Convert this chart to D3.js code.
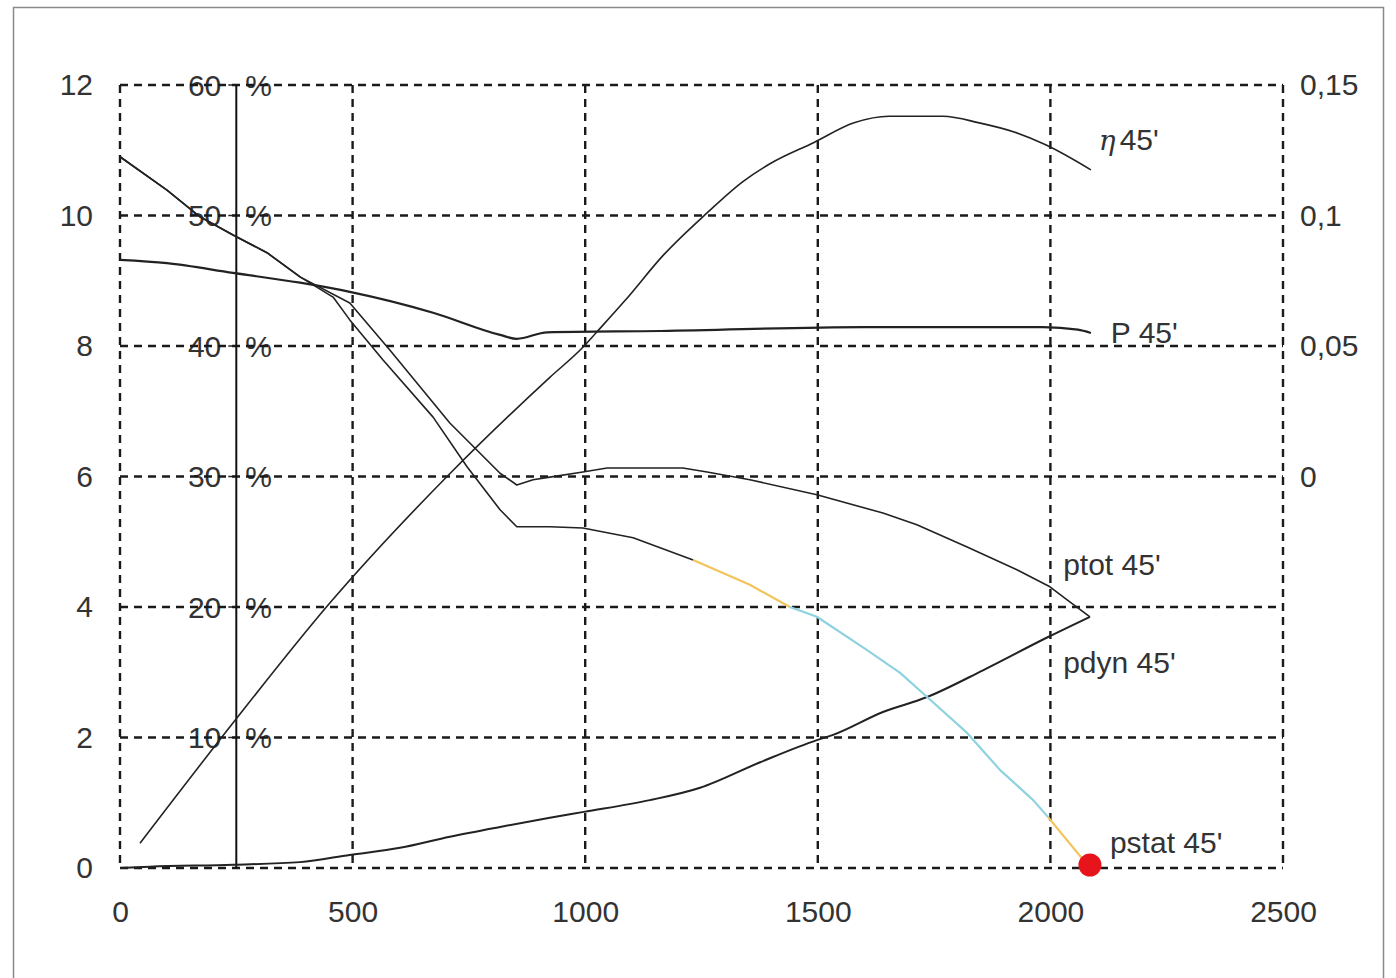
<!DOCTYPE html>
<html>
<head>
<meta charset="utf-8">
<script src="https://cdn.jsdelivr.net/npm/d3@7"></script>
<style>
  html, body { margin: 0; padding: 0; background: #fff; }
  svg { display: block; }
</style>
</head>
<body>
<svg id="chart" width="1396" height="978"></svg>
<script>
// ---------------- data ----------------
const xTicks = [0, 500, 1000, 1500, 2000, 2500];
const leftTicks = [0, 2, 4, 6, 8, 10, 12];
const pctTicks = [10, 20, 30, 40, 50, 60];
const rightTicks = [0, 0.05, 0.1, 0.15];

// efficiency eta (%) vs flow
const etaX = [43, 247, 451, 703, 924, 995, 1023, 1086, 1169, 1262, 1339, 1399, 1492, 1578, 1653, 1769, 1847, 1922, 1991, 2087];
const etaY = [1.9, 11.3, 20.3, 30.0, 37.6, 39.9, 41.0, 43.5, 47.0, 50.2, 52.6, 54.0, 55.6, 57.1, 57.6, 57.6, 57.1, 56.4, 55.4, 53.5];

// power P
const pX = [0, 101, 243, 387, 494, 673, 817, 853, 918, 1163, 1599, 1984, 2059, 2087];
const pY = [9.32, 9.27, 9.12, 8.97, 8.83, 8.51, 8.17, 8.11, 8.21, 8.23, 8.29, 8.29, 8.25, 8.20];

// total pressure
const ptotX = [0, 101, 172, 243, 316, 387, 494, 580, 709, 817, 853, 888, 924, 995, 1047, 1210, 1262, 1354, 1498, 1640, 1713, 1821, 1928, 1999, 2036, 2085];
const ptotY = [10.90, 10.39, 9.98, 9.70, 9.43, 9.06, 8.66, 7.94, 6.82, 6.05, 5.87, 5.95, 5.99, 6.07, 6.13, 6.13, 6.07, 5.95, 5.72, 5.44, 5.26, 4.92, 4.57, 4.31, 4.11, 3.85];

// static pressure
const pstatX = [0, 101, 172, 243, 316, 387, 458, 494, 565, 673, 746, 817, 853, 924, 995, 1103, 1232, 1354, 1440, 1498, 1606, 1677, 1735, 1821, 1892, 1963, 1995, 2085];
const pstatY = [10.90, 10.39, 9.98, 9.70, 9.43, 9.06, 8.75, 8.40, 7.79, 6.91, 6.15, 5.49, 5.23, 5.23, 5.21, 5.06, 4.72, 4.34, 4.00, 3.85, 3.34, 2.99, 2.62, 2.07, 1.50, 1.04, 0.78, 0.0];
// flow values where the pstat line colour changes
const pstatBreaks = [1232, 1440, 1995];

// dynamic pressure
const pdynX = [0, 64, 243, 387, 494, 602, 709, 817, 924, 997, 1139, 1247, 1376, 1498, 1533, 1640, 1735, 1855, 1995, 2085];
const pdynY = [0, 0.02, 0.05, 0.09, 0.20, 0.31, 0.48, 0.63, 0.77, 0.86, 1.04, 1.23, 1.62, 1.96, 2.04, 2.39, 2.62, 3.03, 3.54, 3.85];

// operating point
const opX = [2085];
const opY = [0.0];

// curve labels
const curveLabels = ["\u03B7", "P 45'", "ptot 45'", "pdyn 45'", "pstat 45'"];

// ---------------- drawing ----------------
const svg = d3.select("#chart");
const mLeft = 120, mRight = 1283, mTop = 85, mBottom = 868;

const x = d3.scaleLinear().domain([0, 2500]).range([mLeft, mRight]);
const yL = d3.scaleLinear().domain([0, 12]).range([mBottom, mTop]);
const yPct = d3.scaleLinear().domain([0, 60]).range([mBottom, mTop]);
const yR = d3.scaleLinear().domain([0, 0.15]).range([yL(6), mTop]);

const fontFam = "'Liberation Sans', Arial, sans-serif";
const textCol = "#333";
const fs = 30;
const commaFmt = d3.formatLocale({decimal: ",", thousands: ".", grouping: [3], currency: ["", ""]}).format("~g");

// outer frame
svg.append("rect").attr("x", 13.5).attr("y", 7.5).attr("width", 1370).attr("height", 990)
  .attr("fill", "none").attr("stroke", "#8a8a8a").attr("stroke-width", 1.5);

// left axis labels
const gL = svg.append("g").attr("transform", `translate(${mLeft - 27},0)`)
  .call(d3.axisLeft(yL).tickValues(leftTicks).tickSize(0).tickPadding(0).tickFormat(d3.format("d")));
gL.select(".domain").remove();
gL.selectAll("text").attr("font-family", fontFam).attr("font-size", fs).attr("fill", textCol);

// bottom axis labels
const gB = svg.append("g").attr("transform", `translate(0,${mBottom + 33})`)
  .call(d3.axisBottom(x).tickValues(xTicks).tickSize(0).tickPadding(0).tickFormat(d3.format("d")));
gB.select(".domain").remove();
gB.selectAll("text").attr("font-family", fontFam).attr("font-size", fs).attr("fill", textCol);

// right axis labels
const gR = svg.append("g").attr("transform", `translate(${mRight + 17},0)`)
  .call(d3.axisRight(yR).tickValues(rightTicks).tickSize(0).tickPadding(0).tickFormat(commaFmt));
gR.select(".domain").remove();
gR.selectAll("text").attr("font-family", fontFam).attr("font-size", fs).attr("fill", textCol);

// percent axis (vertical line at flow 250)
const pctX = x(250);
const gP = svg.append("g");
gP.selectAll("text.num").data(pctTicks).join("text").attr("class", "num")
  .attr("x", pctX - 15).attr("y", d => yPct(d)).attr("dy", "0.35em")
  .attr("text-anchor", "end").attr("font-family", fontFam).attr("font-size", fs).attr("fill", textCol)
  .text(d => d3.format("d")(d));
gP.selectAll("text.pct").data(pctTicks).join("text").attr("class", "pct")
  .attr("x", pctX + 9).attr("y", d => yPct(d)).attr("dy", "0.35em")
  .attr("font-family", fontFam).attr("font-size", fs).attr("fill", textCol)
  .text("%");
gP.selectAll("line.tk").data(pctTicks).join("line").attr("class", "tk")
  .attr("x1", pctX - 8).attr("x2", pctX).attr("y1", d => yPct(d)).attr("y2", d => yPct(d))
  .attr("stroke", "#222").attr("stroke-width", 1.5);

// grid (dashed), drawn over the labels
const grid = svg.append("g").attr("stroke", "#1a1a1a").attr("stroke-width", 2.4).attr("stroke-dasharray", "8,6");
grid.selectAll("line.v").data(xTicks).join("line").attr("class", "v")
  .attr("x1", d => x(d)).attr("x2", d => x(d)).attr("y1", mTop).attr("y2", mBottom);
grid.selectAll("line.h").data(leftTicks).join("line").attr("class", "h")
  .attr("x1", mLeft).attr("x2", mRight).attr("y1", d => yL(d)).attr("y2", d => yL(d));

// percent axis vertical line
svg.append("line").attr("x1", pctX).attr("x2", pctX).attr("y1", yPct(60)).attr("y2", yPct(0))
  .attr("stroke", "#111").attr("stroke-width", 2);

// curves
const zip = (xs, ys) => xs.map((v, i) => [v, ys[i]]);
const lineL = d3.line().x(d => x(d[0])).y(d => yL(d[1])).curve(d3.curveMonotoneX);
const lineP = d3.line().x(d => x(d[0])).y(d => yPct(d[1])).curve(d3.curveMonotoneX);
const curveStyle = sel => sel.attr("fill", "none").attr("stroke", "#222").attr("stroke-width", 1.6).attr("stroke-linejoin", "round");

svg.append("path").datum(zip(etaX, etaY)).attr("d", lineP).call(curveStyle);
svg.append("path").datum(zip(pX, pY)).attr("d", lineL).call(curveStyle).attr("stroke-width", 2.2);
svg.append("path").datum(zip(ptotX, ptotY)).attr("d", d3.line().x(d => x(d[0])).y(d => yL(d[1]))).call(curveStyle);
svg.append("path").datum(zip(pdynX, pdynY)).attr("d", lineL).call(curveStyle).attr("stroke-width", 2);

// pstat in coloured pieces
const pstatPts = zip(pstatX, pstatY);
const edges = [0, ...pstatBreaks, 2500];
const pieceColors = ["#222", "#f2c45a", "#8ed2df", "#f2c45a"];
const linePs = d3.line().x(d => x(d[0])).y(d => yL(d[1]));
for (let i = 0; i < edges.length - 1; i++) {
  const pts = pstatPts.filter(p => p[0] >= edges[i] && p[0] <= edges[i + 1]);
  svg.append("path").datum(pts).attr("d", linePs).call(curveStyle)
    .attr("stroke", pieceColors[i]).attr("stroke-width", i === 0 ? 1.6 : 2.2);
}

// operating point
svg.selectAll("circle.op").data(zip(opX, opY)).join("circle").attr("class", "op")
  .attr("cx", d => x(d[0])).attr("cy", d => yL(d[1]) - 3).attr("r", 11.5).attr("fill", "#e8141c");

// curve labels
const lab = (txt, px, py) => svg.append("text").attr("x", px).attr("y", py)
  .attr("font-family", fontFam).attr("font-size", fs).attr("fill", textCol).text(txt);
const eta = svg.append("text").attr("x", x(2087) + 8).attr("y", yPct(53.5) - 20)
  .attr("font-family", fontFam).attr("font-size", fs).attr("fill", textCol);
eta.append("tspan").attr("font-family", "'DejaVu Serif', serif").attr("font-style", "italic").attr("font-size", 28).text(curveLabels[0]);
eta.append("tspan").attr("dx", 4).text("45'");
lab(curveLabels[1], x(2087) + 20, yL(8.2) + 10);
lab(curveLabels[2], x(2036) - 4, yL(4.5) + 1);
lab(curveLabels[3], x(2036) - 4, yL(3.0) + 1);
lab(curveLabels[4], x(2085) + 20, yL(0.35) + 8);
</script>
</body>
</html>
